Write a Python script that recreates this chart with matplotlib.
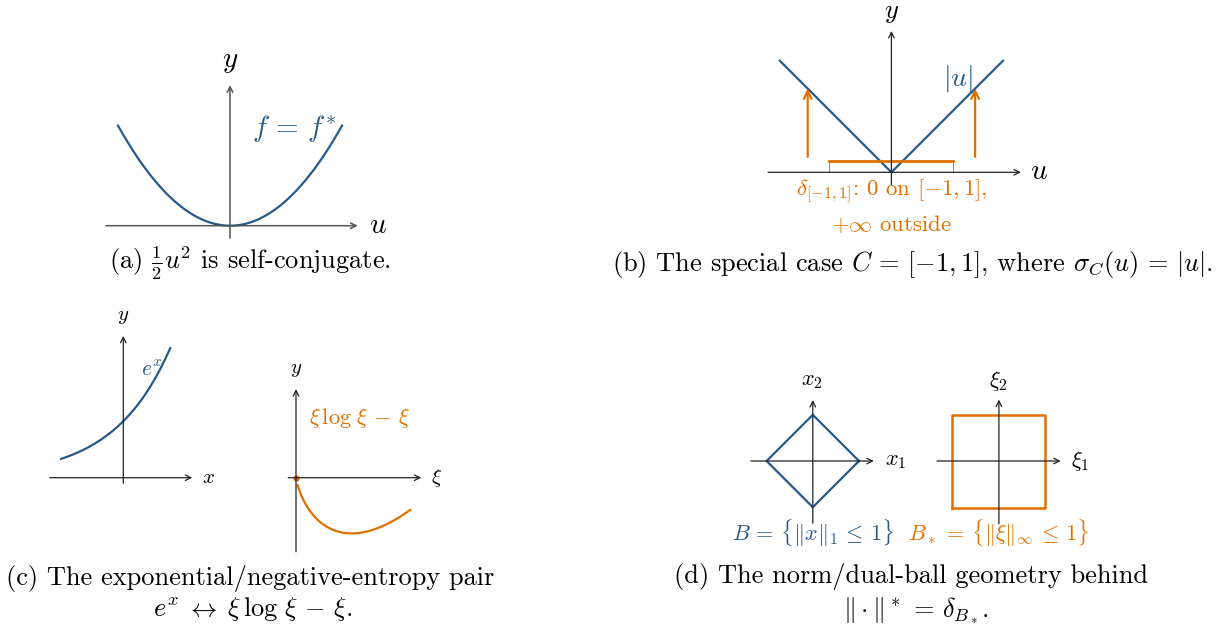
import numpy as np
import matplotlib.pyplot as plt

plt.rcParams['font.family'] = 'cmr10'
plt.rcParams['mathtext.fontset'] = 'cm'
plt.rcParams['axes.unicode_minus'] = False

BLUE = "#27598a"
ORANGE = "#e07000"
W, H = 1229, 632

# (a) domain of 1/2 u^2
a_u = [-1.5, 1.5]
# (b) |u| domain, the set C, where the orange arrows stand
b_u = [-1.8, 1.8]
b_interval = [-1.0, 1.0]
b_arrow_u = [-1.35, 1.35]
b_arrow_base = 0.25
b_level = 0.18
# (c) domains of e^x and xi log xi - xi
c_x = [-1.1, 0.83]
c_xi = [0.03, 2.05]
# (d) radius of both balls
d_r = 1.0

fig = plt.figure(figsize=(W / 100, H / 100), dpi=100)


def panel(ox, oy, sx, sy):
    # axes over the whole figure, origin at pixel (ox, oy), sx / sy pixels per unit
    ax = fig.add_axes([0, 0, 1, 1])
    ax.set_xlim(-ox / sx, (W - ox) / sx)
    ax.set_ylim(-(H - oy) / sy, oy / sy)
    ax.axis("off")
    ax.patch.set_alpha(0)
    return ax


def arrow(ax, start, end, color="#222222", lw=0.9, ms=10):
    ax.annotate("", xy=end, xytext=start,
                arrowprops=dict(arrowstyle="->", color=color, lw=lw,
                                shrinkA=0, shrinkB=0, mutation_scale=ms))


def axes_lines(ax, xr, yr, color="#222222", lw=0.9):
    arrow(ax, (xr[0], 0), (xr[1], 0), color, lw)
    arrow(ax, (0, yr[0]), (0, yr[1]), color, lw)


def caption(x, y, s, size=19):
    fig.text(x / W, 1 - y / H, s, ha="center", va="center", fontsize=size)


# ---- (a)
ax = panel(230, 225.7, 74.7, 89)
axes_lines(ax, (-1.66, 1.71), (-0.14, 1.58), color="#555555", lw=1.1)
u = np.linspace(a_u[0], a_u[1], 200)
ax.plot(u, 0.5 * u ** 2, color=BLUE, lw=1.6)
ax.text(1.98, 0, "$u$", fontsize=21, ha="center", va="center")
ax.text(0, 1.84, "$y$", fontsize=21, ha="center", va="center")
ax.text(0.86, 1.08, r"$f\,=\,f^{*}$", fontsize=21, color=BLUE, ha="center", va="center")
caption(250, 263, r"(a) $\frac{1}{2}u^2$ is self-conjugate.")

# ---- (b)
ax = panel(891.4, 172.3, 62, 62)
axes_lines(ax, (-1.99, 2.09), (-0.2, 2.28))
ub = np.array([b_u[0], 0, b_u[1]])
ax.plot(ub, np.abs(ub), color=BLUE, lw=1.6)
ax.plot(b_interval, [b_level, b_level], color=ORANGE, lw=2)
for e in b_interval:
    ax.plot([e, e], [0, b_level], color=ORANGE, lw=0.7)
for ua in b_arrow_u:
    arrow(ax, (ua, b_arrow_base), (ua, abs(ua)), color=ORANGE, lw=1.6, ms=14)
ax.text(2.38, 0, "$u$", fontsize=21, ha="center", va="center")
ax.text(0, 2.56, "$y$", fontsize=19, ha="center", va="center")
ax.text(1.07, 1.52, "$|u|$", fontsize=20, color=BLUE, ha="center", va="center")
ax.text(0, -0.31, r"$\delta_{[-1,1]}$: 0 on $[-1,1]$,", fontsize=16.5, color=ORANGE,
        ha="center", va="center")
ax.text(0, -0.83, r"$+\infty$ outside", fontsize=16.5, color=ORANGE,
        ha="center", va="center")
caption(912, 264, r"(b) The special case $C\,=\,[-1,1]$, where $\sigma_C(u)\,=\,|u|$.")

# ---- (c) left
ax = panel(123.3, 477.7, 56.5, 56.5)
axes_lines(ax, (-1.3, 1.22), (-0.1, 2.51))
x = np.linspace(c_x[0], c_x[1], 200)
ax.plot(x, np.exp(x), color=BLUE, lw=1.6)
ax.text(1.51, 0, "$x$", fontsize=15, ha="center", va="center")
ax.text(0, 2.85, "$y$", fontsize=15, ha="center", va="center")
ax.text(0.5, 1.9, "$e^x$", fontsize=15.5, color=BLUE, ha="center", va="center")

# ---- (c) right
ax = panel(296, 477.7, 55.7, 55.7)
axes_lines(ax, (-0.14, 2.25), (-1.33, 1.59))
xi = np.linspace(c_xi[0], c_xi[1], 200)
ax.plot(xi, xi * np.log(xi) - xi, color=ORANGE, lw=1.6)
ax.plot([0], [0], "o", color=ORANGE, ms=3.5)
ax.text(2.53, 0, r"$\xi$", fontsize=15, ha="center", va="center")
ax.text(0, 1.93, "$y$", fontsize=15, ha="center", va="center")
ax.text(0.24, 1.07, r"$\xi\,\log\,\xi\,-\,\xi$", fontsize=16, color=ORANGE,
        ha="left", va="center")
caption(250, 578, "(c) The exponential/negative-entropy pair")
caption(253, 609, r"$e^x\;\leftrightarrow\;\xi\,\log\,\xi\,-\,\xi$.")

# ---- (d) left
ax = panel(812.8, 461, 46.2, 46.2)
axes_lines(ax, (-1.34, 1.32), (-1.35, 1.32))
ax.plot([d_r, 0, -d_r, 0, d_r], [0, d_r, 0, -d_r, 0], color=BLUE, lw=1.6)
ax.text(1.8, 0, "$x_1$", fontsize=16, ha="center", va="center")
ax.text(-0.03, 1.72, "$x_2$", fontsize=16, ha="center", va="center")
ax.text(0, -1.56, r"$B\,=\,\{\Vert x\Vert_1\,\leq\,1\}$", fontsize=16, color=BLUE,
        ha="center", va="center")

# ---- (d) right
ax = panel(998.9, 461, 46.5, 46.5)
axes_lines(ax, (-1.33, 1.33), (-1.35, 1.32))
ax.plot([-d_r, d_r, d_r, -d_r, -d_r], [-d_r, -d_r, d_r, d_r, -d_r], color=ORANGE, lw=1.8)
ax.text(1.74, 0, r"$\xi_1$", fontsize=16, ha="center", va="center")
ax.text(-0.02, 1.73, r"$\xi_2$", fontsize=16, ha="center", va="center")
ax.text(0, -1.56, r"$B_*\,=\,\{\Vert\xi\Vert_\infty\,\leq\,1\}$", fontsize=16, color=ORANGE,
        ha="center", va="center")
caption(911, 577, "(d) The norm/dual-ball geometry behind")
caption(916, 611, r"$\Vert\cdot\Vert^*\,=\,\delta_{B_*}$.")

fig.savefig("out.png", dpi=100)
